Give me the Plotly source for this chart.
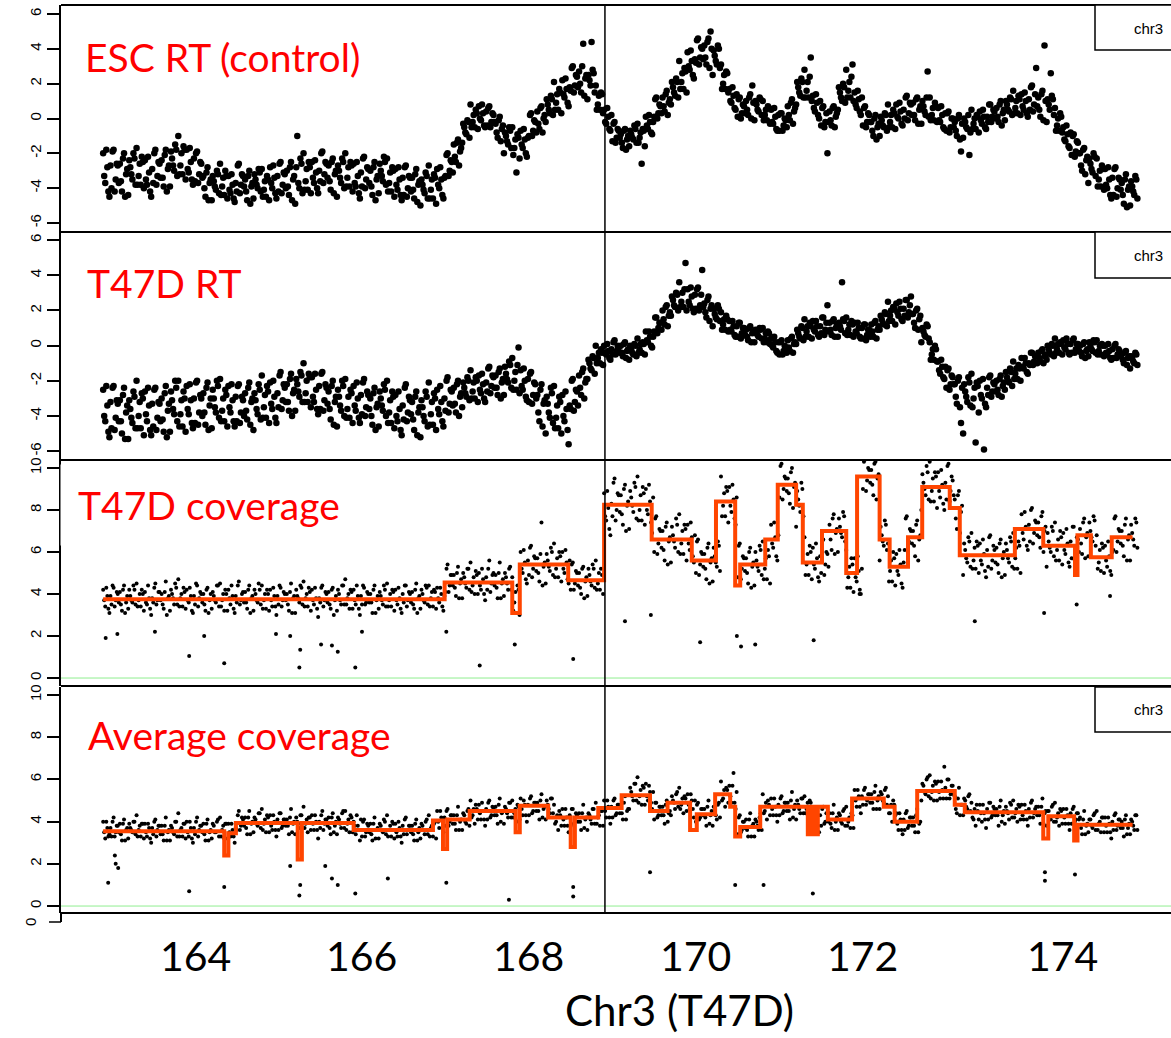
import plotly.graph_objects as go

# ---------------- data ----------------
# readings every 0.025 Mb starting at 162.9 Mb (4 readings per 0.1 Mb row);
# the *_B sets are a second pass of readings taken half a step later.
START_MB = 162.9
STEP_MB = 0.025

ESC_RT = [
[-2.0,-3.7,-2.8,-4.5],[-4.0,-1.8,-3.5,-2.7],[-2.6,-4.2,-2.0,-3.2],[-4.4,-2.8,-3.5,-2.3],[-1.7,-3.3,-3.8,-2.5],
[-2.4,-3.8,-3.1,-4.5],[-3.7,-1.8,-3.3,-2.6],[-2.4,-3.9,-1.8,-2.9],[-3.9,-2.3,-3.0,-1.8],[-1.0,-2.7,-3.2,-1.8],
[-1.8,-3.1,-2.5,-3.8],[-3.6,-1.9,-3.2,-2.6],[-3.3,-4.5,-2.8,-3.7],[-4.7,-3.6,-4.1,-3.2],[-2.6,-3.9,-4.4,-3.3],
[-3.3,-4.3,-3.8,-4.8],[-4.2,-2.6,-3.8,-3.3],[-3.5,-4.7,-3.0,-3.9],[-4.6,-3.5,-4.0,-3.1],[-2.9,-4.1,-4.5,-3.5],
[-2.8,-4.0,-3.4,-4.6],[-4.2,-2.5,-3.8,-3.2],[-3.0,-4.4,-2.5,-3.5],[-4.9,-1.0,-4.0,-2.6],[-2.0,-3.6,-4.1,-2.8],
[-2.5,-3.7,-3.1,-4.3],[-3.6,-1.9,-3.2,-2.6],[-2.7,-4.1,-2.3,-3.2],[-4.5,-3.0,-3.7,-2.5],[-2.0,-3.4,-3.9,-2.7],
[-2.6,-3.9,-3.3,-4.6],[-3.9,-2.2,-3.5,-2.9],[-3.0,-4.4,-2.5,-3.5],[-4.3,-3.0,-3.6,-2.5],[-2.3,-3.7,-4.2,-3.0],
[-2.9,-4.1,-3.5,-4.7],[-4.4,-2.7,-4.0,-3.4],[-3.4,-4.6,-2.9,-3.8],[-5.0,-3.8,-4.3,-3.3],[-2.7,-4.1,-4.6,-3.4],
[-2.9,-4.0,-3.5,-4.6],[-3.3,-2.0,-3.0,-2.5],[-1.5,-2.5,-1.2,-1.9],[-1.4,-0.5,-0.9,-0.2],[0.8,-0.2,-0.5,0.3],
[0.7,-0.1,0.3,-0.5],[-0.4,0.7,-0.2,0.2],[-0.3,-1.1,0.1,-0.6],[-2.0,-1.0,-1.5,-0.7],[-0.5,-1.7,-3.1,-1.1],
[-0.7,-1.7,-1.2,-2.2],[-1.0,0.3,-0.7,-0.2],[0.4,-0.6,0.7,0.0],[-0.2,0.8,0.3,1.1],[2.1,0.9,0.5,1.5],
[2.2,1.2,1.7,0.7],[1.6,3.0,1.9,2.4],[2.7,1.5,4.3,2.3],[1.1,2.2,4.4,2.6],[1.9,0.8,0.5,1.4],
[0.5,-0.3,0.1,-0.7],[-1.3,-0.2,-1.1,-0.7],[-0.9,-1.7,-0.6,-1.2],[-1.6,-0.9,-1.2,-0.6],[-0.3,-1.1,-2.6,-0.7],
[0.1,-0.6,-0.2,-0.9],[0.1,1.2,0.3,0.7],[1.2,0.4,1.6,0.9],[0.8,1.8,1.3,2.1],[3.3,2.1,1.7,2.7],
[3.8,2.8,3.3,2.3],[3.2,4.6,3.5,4.0],[4.2,3.1,4.6,5.0],[2.5,3.6,3.1,4.0],[3.1,2.0,1.7,2.6],
[1.7,0.9,1.3,0.5],[0.1,1.2,0.3,0.7],[1.0,0.2,1.4,1.9],[-0.1,0.8,0.4,1.1],[1.0,0.2,-0.1,0.6],
[0.5,-0.3,0.1,-0.7],[-0.7,0.3,-0.4,-0.1],[0.7,-0.1,1.1,0.4],[0.8,1.8,1.3,2.1],[2.8,1.6,1.2,3.5],
[1.3,0.4,0.9,0.0],[-0.4,0.7,-0.2,-2.0],[0.4,-0.4,0.7,0.1],[0.5,1.5,1.0,1.8],[2.8,1.6,1.2,3.1],
[1.5,0.6,1.1,0.2],[-0.4,0.7,-0.2,0.2],[-0.2,-1.0,0.2,-0.5],[-1.0,-0.1,-0.5,0.2],[0.8,-0.2,-0.5,0.3],
[0.8,0.0,0.4,-0.4],[0.0,1.3,0.3,0.8],[0.9,-0.1,1.2,0.5],[-0.3,0.7,0.2,2.7],[1.2,0.2,-0.1,0.7],
[0.6,-0.2,0.2,-0.6],[-0.7,0.4,-0.5,0.0],[-0.2,-1.0,0.2,-1.9],[-1.1,-0.2,-0.6,-2.1],[0.5,-0.3,-0.6,0.1],
[0.4,-0.3,0.1,-0.6],[-0.2,0.8,0.1,0.4],[0.6,-0.2,1.0,0.3],[-0.1,0.8,0.4,1.1],[1.6,0.6,0.3,1.1],
[1.4,0.5,1.0,0.1],[0.5,1.9,0.8,2.9],[1.2,0.1,1.6,4.2],[-0.2,0.8,2.6,1.1],[0.6,-0.4,-0.7,0.1],
[-0.5,-1.3,-0.9,-1.7],[-2.1,-0.9,-1.9,-1.4],[-2.0,-3.0,-1.7,-2.4],[-3.7,-2.6,-3.1,-2.2],[-2.3,-3.5,-3.9,-2.9],
[-2.9,-4.0,-3.5,-4.6],[-4.4,-2.8,-4.0,-3.5],[-3.7,-4.9,-3.2,-4.1],[-5.0,-3.9,-4.4,-3.5],
]
ESC_RT_B = [
[-3.3,-1.8,-4.2,-2.7],[-1.9,-4.2,-2.6,-3.7],[-3.6,-2.3,-4.5,-2.9],[-2.4,-3.2,-2.0,-3.8],[-3.8,-2.6,-2.2,-4.0],
[-3.5,-2.2,-4.2,-2.9],[-2.0,-3.8,-2.5,-3.4],[-3.4,-2.1,-4.2,-2.7],[-1.9,-2.7,-1.5,-3.3],[-3.2,-2.0,-1.6,-3.5],
[-2.9,-1.7,-3.5,-2.3],[-2.0,-3.7,-2.5,-3.4],[-4.0,-3.1,-4.7,-3.5],[-3.3,-3.9,-3.0,-4.3],[-4.4,-3.4,-3.0,-4.6],
[-4.1,-3.2,-4.6,-3.7],[-2.7,-4.3,-3.2,-3.9],[-4.2,-3.3,-4.9,-3.7],[-3.2,-3.8,-2.9,-4.2],[-4.5,-3.6,-3.3,-4.7],
[-3.7,-2.7,-4.3,-3.3],[-2.6,-4.3,-3.1,-4.0],[-3.9,-2.8,-4.7,-3.3],[-2.8,-3.7,-2.3,-4.3],[-4.1,-2.9,-2.5,-4.3],
[-3.4,-2.4,-4.0,-3.0],[-2.0,-3.7,-2.5,-3.4],[-3.6,-2.5,-4.3,-3.0],[-2.7,-3.4,-2.3,-4.0],[-3.9,-2.8,-2.5,-4.2],
[-3.7,-2.5,-4.3,-3.1],[-2.3,-4.0,-2.8,-3.7],[-3.9,-2.8,-4.7,-3.3],[-2.6,-3.3,-2.2,-3.8],[-4.2,-3.1,-2.8,-4.5],
[-3.8,-2.8,-4.4,-3.4],[-2.8,-4.5,-3.3,-4.2],[-4.1,-3.2,-4.8,-3.6],[-3.5,-4.1,-3.1,-4.6],[-4.6,-3.5,-3.2,-4.9],
[-3.8,-2.8,-4.4,-3.4],[-2.1,-3.3,-2.4,-3.1],[-2.2,-1.4,-2.7,-1.7],[-0.3,-0.8,-0.1,-1.1],[-0.5,0.2,0.5,-0.6],
[0.0,0.8,-0.4,0.4],[0.6,-0.5,0.3,-0.2],[-0.8,-0.1,-1.3,-0.4],[-0.8,-1.3,-0.5,-1.7],[-2.1,-1.2,-0.9,-2.3],
[-1.5,-0.6,-2.0,-1.1],[0.2,-1.0,-0.1,-0.8],[-0.3,0.6,-0.8,0.2],[1.1,0.5,1.3,0.2],[0.5,1.4,1.7,0.3],
[1.4,2.3,0.9,1.8],[2.9,1.5,2.5,1.8],[2.0,3.0,1.3,2.5],[2.5,1.9,2.8,1.5],[0.5,1.3,1.5,0.3],
[-0.2,0.6,-0.6,0.2],[-0.3,-1.4,-0.6,-1.1],[-1.4,-0.7,-1.8,-1.0],[-0.7,-1.1,-0.4,-1.4],[-1.4,-0.8,-0.6,-1.6],
[-0.4,0.2,-0.8,-0.2],[1.1,0.0,0.8,0.3],[0.7,1.4,0.2,1.1],[2.1,1.5,2.3,1.2],[1.7,2.6,2.9,1.5],
[3.0,3.9,2.5,3.4],[4.5,3.1,4.1,3.4],[3.5,4.4,2.9,4.0],[3.9,3.3,4.2,2.9],[1.7,2.5,2.7,1.5],
[1.0,1.8,0.6,1.4],[1.1,0.0,0.8,0.3],[0.5,1.2,0.0,0.9],[1.0,0.5,1.2,0.2],[-0.1,0.5,0.7,-0.3],
[-0.2,0.6,-0.6,0.2],[0.3,-0.7,0.0,-0.5],[0.2,0.9,-0.3,0.6],[2.1,1.5,2.3,1.2],[1.2,2.1,2.4,1.0],
[0.6,1.4,0.2,1.0],[0.6,-0.5,0.3,-0.2],[-0.1,0.6,-0.5,0.3],[1.8,1.2,2.0,0.9],[1.2,2.1,2.4,1.0],
[0.8,1.6,0.4,1.2],[0.6,-0.5,0.3,-0.2],[-0.7,0.0,-1.2,-0.3],[0.1,-0.4,0.3,-0.7],[-0.5,0.2,0.5,-0.6],
[0.1,0.9,-0.3,0.5],[1.2,-0.1,0.9,0.2],[0.2,1.1,-0.3,0.7],[1.0,0.4,1.2,0.1],[-0.1,0.6,0.9,-0.2],
[-0.1,0.7,-0.5,0.3],[0.3,-0.8,0.0,-0.5],[-0.7,0.0,-1.2,-0.3],[0.0,-0.5,0.2,-0.8],[-0.6,0.0,0.2,-0.8],
[-0.1,0.5,-0.5,0.1],[0.8,-0.2,0.5,0.0],[0.1,0.8,-0.4,0.5],[1.0,0.5,1.2,0.2],[0.3,1.0,1.3,0.2],
[0.7,1.5,0.3,1.1],[1.8,0.4,1.4,0.7],[0.5,1.4,-0.1,1.0],[1.1,0.5,1.3,0.2],[-0.7,0.0,0.3,-0.8],
[-1.2,-0.4,-1.6,-0.8],[-1.0,-2.2,-1.3,-2.0],[-2.7,-1.8,-3.2,-2.2],[-2.3,-2.9,-2.0,-3.3],[-3.9,-3.0,-2.7,-4.1],
[-3.8,-2.8,-4.4,-3.4],[-2.9,-4.5,-3.4,-4.1],[-4.4,-3.5,-5.1,-3.9],[-3.6,-4.2,-3.3,-4.6],
]

T47D_RT = [
[-2.5,-4.3,-3.4,-5.2],[-4.7,-2.3,-4.1,-3.3],[-3.1,-5.0,-2.4,-3.8],[-5.3,-3.6,-4.4,-2.9],[-2.0,-4.0,-4.7,-3.0],
[-2.6,-4.3,-3.4,-5.1],[-4.6,-2.4,-4.1,-3.3],[-3.0,-4.9,-2.3,-3.7],[-4.9,-3.1,-3.9,-2.4],[-2.0,-3.9,-4.6,-3.0],
[-2.3,-3.9,-3.1,-4.7],[-4.4,-2.0,-3.8,-3.0],[-2.7,-4.5,-2.1,-3.4],[-4.7,-3.0,-3.8,-2.3],[-1.9,-3.7,-4.3,-2.8],
[-2.3,-3.8,-3.1,-4.6],[-4.3,-2.2,-3.8,-3.1],[-2.7,-4.2,-2.1,-3.2],[-4.8,-3.1,-3.9,-2.5],[-1.7,-3.5,-4.1,-2.6],
[-2.1,-3.6,-2.9,-4.4],[-3.5,-1.5,-3.1,-2.4],[-2.2,-3.7,-1.6,-2.7],[-3.7,-2.2,-2.9,-1.7],[-1.0,-2.7,-3.2,-1.8],
[-1.8,-3.2,-2.5,-3.9],[-3.6,-1.5,-3.1,-2.4],[-2.6,-4.2,-2.0,-3.2],[-4.6,-2.9,-3.7,-2.3],[-1.9,-3.6,-4.1,-2.7],
[-2.3,-3.7,-3.0,-4.4],[-3.9,-1.9,-3.5,-2.8],[-3.0,-4.5,-2.4,-3.5],[-4.6,-3.0,-3.7,-2.5],[-2.0,-3.8,-4.4,-2.9],
[-2.8,-4.3,-3.6,-5.1],[-4.2,-2.2,-3.8,-3.1],[-3.2,-4.8,-2.6,-3.8],[-5.2,-3.5,-4.3,-2.9],[-2.1,-3.9,-4.5,-3.0],
[-2.5,-3.9,-3.2,-4.6],[-3.7,-1.8,-3.3,-2.6],[-2.4,-3.8,-2.0,-2.9],[-3.5,-2.4,-2.9,-2.0],[-1.4,-2.6,-3.0,-2.0],
[-1.7,-2.7,-2.2,-3.2],[-2.6,-1.2,-2.3,-1.8],[-1.7,-2.8,-1.3,-2.1],[-2.8,-1.6,-2.1,-1.1],[-0.7,-2.0,-2.5,-0.1],
[-1.4,-2.5,-2.0,-3.1],[-3.2,-1.5,-2.8,-2.2],[-2.8,-4.3,-2.2,-3.3],[-5.0,-3.3,-4.1,-2.7],[-2.3,-4.1,-4.7,-3.2],
[-2.8,-4.3,-3.6,-5.6],[-3.6,-1.9,-3.2,-2.6],[-1.7,-2.8,-1.3,-2.1],[-1.9,-1.0,-1.4,-0.7],[0.0,-0.7,-1.0,-0.4],
[0.0,-0.5,-0.3,-0.8],[-0.5,0.3,-0.3,-0.1],[0.0,-0.6,0.2,-0.3],[-0.8,-0.2,-0.5,0.0],[0.4,-0.2,-0.4,0.1],
[0.8,0.2,0.5,-0.1],[0.8,1.6,1.0,1.3],[2.0,1.2,2.3,1.7],[1.7,2.6,2.2,2.9],[3.6,2.5,2.2,4.7],
[3.2,2.3,2.8,1.9],[2.1,3.3,2.3,4.3],[2.4,1.6,2.8,2.1],[1.1,1.8,1.5,2.1],[1.9,1.2,0.9,1.5],
[1.4,0.8,1.1,0.5],[0.5,1.3,0.7,1.0],[0.9,0.3,1.1,0.7],[0.2,0.7,0.5,0.9],[1.0,0.4,0.2,0.7],
[0.4,-0.1,0.2,-0.4],[-0.5,0.3,-0.3,-0.1],[0.3,-0.3,0.5,0.1],[0.1,0.7,0.4,1.0],[1.5,0.8,0.5,1.1],
[1.4,0.8,1.1,0.5],[0.7,1.6,0.9,2.3],[1.3,0.6,1.5,1.0],[0.5,1.1,3.6,1.4],[1.6,0.9,0.6,1.2],
[1.3,0.7,1.0,0.4],[0.4,1.2,0.6,0.9],[1.2,0.5,1.4,0.9],[0.9,1.5,1.2,1.8],[2.5,1.7,1.4,2.1],
[2.4,1.7,2.1,1.4],[1.7,2.6,1.9,2.8],[1.8,1.0,2.1,1.5],[0.2,0.8,0.5,1.1],[0.2,-0.5,-0.8,-0.2],
[-0.9,-1.6,-1.2,-1.9],[-2.4,-1.3,-2.2,-1.8],[-2.2,-3.3,-1.8,-4.4],[-5.0,-2.6,-3.2,-2.1],[-1.6,-3.0,-5.5,-2.3],
[-2.0,-3.0,-5.9,-3.5],[-2.8,-1.7,-2.6,-2.2],[-2.0,-2.8,-1.7,-2.3],[-2.5,-1.8,-2.1,-1.5],[-0.9,-1.6,-1.9,-1.3],
[-0.7,-1.3,-1.0,-1.6],[-1.1,-0.4,-0.9,-0.6],[-0.4,-0.9,-0.2,-0.6],[-0.8,-0.2,-0.5,0.0],[0.4,-0.2,-0.4,0.1],
[0.3,-0.2,0.1,-0.5],[-0.4,0.4,-0.2,0.1],[0.0,-0.6,0.2,-0.3],[-0.6,0.0,-0.3,0.2],[0.3,-0.3,-0.5,0.0],
[0.0,-0.5,-0.3,-0.8],[-0.7,0.1,-0.5,-0.3],[-0.5,-1.0,-0.3,-0.7],[-1.3,-0.7,-1.0,-0.5],
]
T47D_RT_B = [
[-4.0,-2.3,-4.9,-3.2],[-2.4,-4.8,-3.1,-4.3],[-4.3,-2.8,-5.3,-3.4],[-3.1,-4.1,-2.6,-4.7],[-4.7,-3.2,-2.7,-5.1],
[-3.9,-2.4,-4.8,-3.3],[-2.5,-4.8,-3.2,-4.3],[-4.2,-2.7,-5.2,-3.3],[-2.6,-3.6,-2.0,-4.3],[-4.6,-3.1,-2.6,-4.9],
[-3.6,-2.2,-4.4,-3.0],[-2.1,-4.5,-2.8,-4.0],[-3.8,-2.4,-4.8,-3.0],[-2.5,-3.5,-2.0,-4.1],[-4.3,-3.0,-2.5,-4.6],
[-3.5,-2.2,-4.3,-2.9],[-2.3,-4.4,-2.9,-4.0],[-3.7,-2.4,-4.5,-3.0],[-2.7,-3.6,-2.2,-4.2],[-4.1,-2.8,-2.3,-4.4],
[-3.3,-2.0,-4.1,-2.7],[-1.7,-3.6,-2.2,-3.2],[-3.2,-1.9,-4.0,-2.5],[-1.9,-2.6,-1.5,-3.2],[-3.2,-2.0,-1.6,-3.5],
[-2.9,-1.6,-3.6,-2.3],[-1.6,-3.7,-2.2,-3.3],[-3.6,-2.3,-4.5,-2.9],[-2.5,-3.4,-2.0,-4.0],[-4.1,-2.9,-2.5,-4.4],
[-3.4,-2.1,-4.1,-2.8],[-2.1,-4.0,-2.6,-3.6],[-4.0,-2.7,-4.8,-3.3],[-2.6,-3.4,-2.2,-4.0],[-4.4,-3.1,-2.6,-4.7],
[-4.0,-2.6,-4.8,-3.4],[-2.4,-4.3,-2.9,-3.9],[-4.2,-2.9,-5.1,-3.5],[-3.1,-4.0,-2.6,-4.6],[-4.5,-3.2,-2.7,-4.8],
[-3.6,-2.3,-4.3,-3.0],[-2.0,-3.8,-2.5,-3.4],[-3.3,-2.2,-4.0,-2.7],[-2.1,-2.7,-1.8,-3.1],[-3.0,-2.1,-1.8,-3.2],
[-2.5,-1.6,-3.0,-2.1],[-1.3,-2.7,-1.7,-2.4],[-2.4,-1.5,-3.0,-1.9],[-1.2,-1.9,-0.9,-2.4],[-2.5,-1.5,-1.1,-2.7],
[-2.3,-1.3,-2.9,-1.9],[-1.6,-3.3,-2.1,-3.0],[-3.8,-2.5,-4.6,-3.1],[-2.9,-3.8,-2.4,-4.4],[-4.7,-3.4,-2.9,-5.0],
[-4.0,-2.6,-4.8,-3.4],[-2.0,-3.7,-2.5,-3.4],[-2.4,-1.5,-3.0,-1.9],[-0.8,-1.3,-0.6,-1.6],[-1.0,-0.4,-0.2,-1.1],
[-0.4,0.1,-0.7,-0.2],[0.2,-0.5,0.0,-0.4],[-0.4,0.1,-0.7,-0.2],[0.0,-0.4,0.1,-0.6],[-0.4,0.1,0.2,-0.5],
[0.3,0.8,0.0,0.5],[1.6,0.7,1.3,0.9],[1.5,2.2,1.1,1.9],[2.8,2.3,3.0,2.0],[2.2,3.0,3.2,2.0],
[2.5,3.3,2.1,2.9],[3.2,2.0,2.9,2.2],[1.9,2.6,1.4,2.3],[2.1,1.6,2.3,1.4],[0.9,1.5,1.7,0.8],
[0.9,1.4,0.6,1.1],[1.3,0.4,1.0,0.6],[0.5,1.0,0.2,0.8],[0.9,0.6,1.0,0.4],[0.2,0.7,0.8,0.1],
[0.0,0.5,-0.3,0.2],[0.2,-0.5,0.0,-0.4],[-0.1,0.4,-0.4,0.2],[0.9,0.5,1.1,0.3],[0.5,1.1,1.3,0.4],
[0.9,1.4,0.6,1.1],[1.6,0.6,1.3,0.8],[0.9,1.4,0.5,1.2],[1.3,0.9,1.5,0.7],[0.6,1.2,1.4,0.5],
[0.8,1.3,0.5,1.0],[1.2,0.3,0.9,0.5],[0.8,1.3,0.4,1.1],[1.7,1.3,1.9,1.1],[1.4,2.0,2.2,1.2],
[1.9,2.5,1.5,2.1],[2.6,1.6,2.3,1.8],[1.3,2.0,0.9,1.7],[1.0,0.6,1.2,0.4],[-0.8,-0.2,0.0,-0.9],
[-1.4,-0.8,-1.8,-1.2],[-1.4,-2.5,-1.7,-2.2],[-2.9,-2.0,-3.5,-2.4],[-2.2,-2.9,-1.8,-3.4],[-3.5,-2.4,-2.1,-3.8],
[-2.8,-1.9,-3.3,-2.4],[-1.8,-2.9,-2.1,-2.6],[-2.5,-1.9,-2.9,-2.1],[-1.5,-2.0,-1.3,-2.3],[-1.9,-1.3,-1.1,-2.0],
[-1.2,-0.7,-1.5,-1.0],[-0.4,-1.1,-0.6,-1.0],[-0.7,-0.3,-1.0,-0.5],[0.0,-0.4,0.1,-0.6],[-0.4,0.1,0.2,-0.5],
[-0.1,0.4,-0.4,0.1],[0.3,-0.4,0.1,-0.3],[-0.4,0.1,-0.7,-0.2],[0.2,-0.2,0.3,-0.4],[-0.5,0.0,0.1,-0.6],
[-0.4,0.1,-0.7,-0.2],[0.0,-0.7,-0.2,-0.6],[-0.8,-0.4,-1.1,-0.6],[-0.6,-0.9,-0.4,-1.1],
]

T47D_COV = [
[4.2,3.4,3.9,3.1],[3.5,4.3,3.7,4.0],[4.1,3.2,4.4,3.6],[3.3,3.9,3.6,4.2],[4.5,3.7,3.4,4.0],
[4.1,3.5,3.8,3.0],[3.6,4.5,3.7,4.1],[4.0,3.3,4.6,3.8],[3.2,4.0,3.5,4.3],[4.7,3.8,3.4,4.1],
[4.2,3.6,3.9,3.1],[3.5,4.4,3.8,4.0],[4.0,3.2,4.3,3.7],[3.3,3.9,3.6,4.4],[4.5,3.7,3.2,4.0],
[4.2,3.5,3.9,3.1],[3.6,4.6,3.7,4.1],[4.1,3.3,4.4,3.8],[3.2,4.0,3.6,4.2],[4.4,3.7,3.3,4.0],
[4.2,3.4,3.9,3.0],[3.5,4.3,3.7,4.0],[4.0,3.2,4.5,3.8],[3.1,3.9,3.6,4.3],[4.6,3.8,3.4,4.1],
[4.2,3.5,3.8,2.9],[3.6,4.4,3.7,4.0],[4.1,3.3,4.3,3.7],[3.2,4.0,3.5,4.4],[4.7,3.8,3.3,4.1],
[4.2,3.5,3.9,3.0],[3.5,4.3,3.6,4.0],[4.0,3.1,4.4,3.7],[3.3,3.9,3.5,4.2],[4.5,3.7,3.4,4.1],
[4.2,3.5,3.8,3.1],[3.6,4.4,3.7,4.0],[4.1,3.3,4.5,3.8],[3.3,4.0,3.6,4.3],[4.4,3.8,3.4,4.1],
[4.3,3.6,4.0,3.2],[4.1,5.4,4.4,4.9],[4.9,3.9,5.3,4.5],[3.8,4.8,4.3,5.2],[5.5,4.4,4.0,4.9],
[5.0,4.2,4.7,3.7],[4.2,5.6,4.5,5.0],[4.9,3.8,5.5,4.5],[3.9,4.8,4.2,5.3],[4.8,3.6,3.1,4.2],
[6.0,5.0,5.5,4.5],[4.9,6.3,5.2,5.7],[5.7,4.6,7.4,5.3],[4.5,5.6,5.1,6.0],[6.4,5.2,4.8,5.8],
[6.0,5.0,5.5,4.5],[4.2,5.5,4.5,5.0],[5.0,4.0,5.3,4.6],[3.9,4.9,4.4,5.2],[5.6,4.5,4.2,4.9],
[8.8,7.5,8.1,6.8],[7.7,9.5,8.0,8.7],[8.7,7.3,9.2,8.2],[7.1,8.6,7.9,9.1],[9.6,8.0,7.5,8.8],
[9.0,7.8,8.4,6.9],[6.0,7.7,6.4,7.0],[7.0,5.6,7.4,6.5],[5.5,6.8,6.2,7.3],[7.8,6.4,5.9,7.1],
[7.3,6.1,6.7,5.5],[5.0,6.6,5.4,5.9],[5.9,4.7,6.4,5.5],[4.6,5.8,5.3,6.3],[9.6,8.2,7.7,8.9],
[9.1,7.9,8.5,7.3],[4.8,6.4,5.2,5.7],[5.7,4.5,6.2,5.3],[4.4,5.6,5.1,6.1],[6.5,5.2,4.7,5.8],
[7.3,6.2,6.7,5.6],[8.6,10.2,9.0,9.5],[9.5,8.3,10.0,9.1],[7.2,8.5,7.9,9.0],[6.7,5.4,4.9,6.0],
[6.2,5.2,5.7,4.6],[5.0,6.6,5.4,5.9],[7.3,6.1,7.8,6.9],[6.0,7.2,6.7,7.7],[6.1,4.8,4.3,5.4],
[5.7,4.6,5.1,4.0],[9.0,10.4,9.4,9.9],[9.9,8.7,10.3,9.5],[5.6,6.8,6.3,7.3],[6.4,5.1,4.6,5.7],
[5.9,4.9,5.4,4.3],[6.1,7.7,6.5,7.0],[7.0,5.8,7.5,6.6],[8.0,9.3,8.7,9.8],[10.3,8.9,8.4,9.6],
[9.8,8.6,9.2,8.0],[8.5,10.2,8.9,9.4],[8.5,7.1,8.9,7.9],[4.9,6.1,5.5,6.5],[6.9,5.6,5.2,6.3],
[6.4,5.4,5.9,4.8],[5.3,6.8,5.6,6.1],[6.2,5.0,6.6,5.7],[4.9,6.1,5.5,6.5],[6.9,5.7,5.2,6.3],
[7.8,6.6,7.2,6.1],[6.5,8.1,6.9,7.4],[7.4,6.2,7.9,7.0],[5.3,6.5,6.0,7.0],[7.4,6.1,5.6,6.7],
[6.9,5.9,6.4,5.3],[5.7,7.2,6.1,6.6],[7.1,5.9,7.6,6.7],[5.8,7.0,6.5,7.5],[6.8,5.5,5.1,6.2],
[6.3,5.3,5.8,4.9],[6.1,7.7,6.5,7.0],[7.0,5.8,7.6,6.6],[5.6,6.9,6.3,7.4],
]
T47D_COV_B = [
[3.7,4.3,3.3,3.9],[4.4,3.4,4.1,3.6],[3.5,4.2,3.1,3.9],[4.2,3.7,4.4,3.5],[3.4,4.0,4.2,3.2],
[3.6,4.4,3.3,3.8],[4.3,3.5,4.1,3.7],[3.5,4.1,3.0,3.9],[4.2,3.8,4.5,3.5],[3.4,4.0,4.3,3.3],
[3.7,4.3,3.2,3.9],[4.5,3.4,4.1,3.6],[3.5,4.2,3.1,4.0],[4.1,3.7,4.4,3.4],[3.4,4.0,4.2,3.2],
[3.8,4.4,3.3,3.9],[4.4,3.5,4.0,3.6],[3.6,4.2,3.1,3.9],[4.2,3.7,4.5,3.5],[3.3,4.0,4.2,3.2],
[3.7,4.3,3.4,3.9],[4.4,3.4,4.1,3.7],[3.5,4.1,3.1,3.9],[4.2,3.8,4.4,3.5],[3.4,4.0,4.3,3.2],
[3.7,4.3,3.3,3.8],[4.3,3.4,4.1,3.6],[3.5,4.2,3.0,3.9],[4.2,3.7,4.4,3.5],[3.5,4.0,4.2,3.3],
[3.7,4.4,3.3,3.9],[4.4,3.5,4.1,3.6],[3.6,4.2,3.1,3.9],[4.1,3.7,4.4,3.4],[3.4,4.0,4.2,3.2],
[3.7,4.3,3.3,4.0],[4.4,3.4,4.1,3.6],[3.5,4.2,3.1,3.9],[4.2,3.7,4.4,3.5],[3.4,4.1,4.2,3.3],
[3.8,4.3,3.4,3.9],[5.2,4.1,4.9,4.4],[4.3,5.0,3.8,4.7],[5.0,4.5,5.2,4.2],[4.1,4.8,5.1,4.0],
[4.4,5.2,4.0,4.8],[5.2,4.1,4.9,4.4],[4.3,5.0,3.8,4.7],[5.0,4.5,5.2,4.2],[3.2,4.1,4.4,3.0],
[5.2,6.1,4.7,5.6],[6.2,4.8,5.8,5.1],[5.0,5.9,4.4,5.5],[5.9,5.3,6.2,4.9],[4.8,5.7,6.0,4.6],
[5.2,6.1,4.7,5.6],[5.4,4.2,5.1,4.4],[4.3,5.2,3.8,4.8],[5.2,4.6,5.4,4.3],[4.2,5.0,5.2,4.0],
[7.7,8.9,7.1,8.3],[9.3,7.5,8.8,7.9],[7.8,9.0,7.0,8.4],[8.9,8.2,9.3,7.6],[7.5,8.7,9.1,7.3],
[8.0,9.2,7.4,8.6],[7.6,5.9,7.1,6.2],[6.1,7.2,5.4,6.7],[7.2,6.5,7.6,6.0],[5.9,7.0,7.3,5.6],
[6.4,7.4,5.8,6.8],[6.5,4.9,6.0,5.3],[5.2,6.2,4.5,5.7],[6.2,5.5,6.5,5.1],[7.7,8.8,9.1,7.4],
[8.2,9.2,7.6,8.6],[6.3,4.7,5.8,5.1],[5.0,6.0,4.3,5.5],[6.0,5.3,6.3,4.9],[4.7,5.7,6.1,4.5],
[6.4,7.4,5.8,6.8],[10.1,8.5,9.6,8.9],[8.8,9.8,8.1,9.3],[8.9,8.2,9.3,7.7],[4.9,5.9,6.3,4.7],
[5.4,6.4,4.8,5.8],[6.5,4.9,6.0,5.3],[6.6,7.6,5.9,7.1],[7.6,6.9,7.9,6.5],[4.3,5.3,5.7,4.1],
[4.8,5.8,4.2,5.2],[10.3,8.9,10.0,9.3],[9.2,10.2,8.5,9.7],[7.2,6.5,7.5,6.1],[4.6,5.6,6.0,4.4],
[5.1,6.1,4.5,5.5],[7.6,6.0,7.1,6.4],[6.3,7.3,5.6,6.8],[9.7,9.0,10.1,8.5],[8.4,9.5,9.8,8.1],
[8.9,9.9,8.3,9.3],[10.1,8.4,9.6,8.7],[7.6,8.7,6.9,8.2],[6.4,5.7,6.7,5.3],[5.2,6.2,6.5,5.0],
[5.6,6.6,5.1,6.1],[6.7,5.2,6.3,5.5],[5.4,6.4,4.8,6.0],[6.4,5.7,6.7,5.3],[5.2,6.2,6.5,5.0],
[6.9,7.9,6.3,7.3],[8.0,6.4,7.5,6.8],[6.7,7.7,6.0,7.2],[6.9,6.2,7.2,5.8],[5.6,6.6,7.0,5.4],
[6.1,7.1,5.5,6.5],[7.2,5.6,6.7,6.0],[6.4,7.4,5.7,6.9],[7.4,6.7,7.7,6.3],[5.2,6.1,6.4,5.0],
[5.6,6.5,5.1,6.0],[7.6,6.0,7.1,6.4],[6.3,7.3,5.6,6.8],[7.3,6.6,7.6,6.2],
]
T47D_OUT_MB = [162.93,163.07,163.52,163.93,164.11,164.35,164.97,165.14,165.25,165.26,165.51,165.64,165.71,165.92,166.00,
               167.01,167.41,167.83,168.53,169.15,169.46,170.05,170.49,170.54,170.71,171.41,171.96,173.34,174.17,174.56,174.96]
T47D_OUT_VAL = [1.9,2.1,2.2,1.05,2.0,0.7,2.1,2.0,0.5,1.35,1.6,1.55,1.25,0.5,2.2,
                2.2,0.6,1.6,0.9,2.7,3.0,1.7,2.0,1.5,1.6,1.8,4.0,2.7,3.1,3.5,3.9]

AVG_COV = [
[4.0,3.2,3.7,3.4],[3.3,4.2,3.5,3.8],[3.9,3.1,4.1,3.6],[3.2,3.7,3.5,4.0],[4.3,3.6,3.3,3.9],
[3.9,3.3,3.7,3.0],[3.4,4.1,3.6,3.8],[3.8,3.1,4.2,3.5],[3.1,3.7,3.4,4.0],[4.4,3.6,3.3,3.9],
[4.0,3.3,3.7,3.0],[3.4,4.2,3.6,3.8],[3.9,3.1,4.1,3.5],[3.2,3.8,3.5,4.1],[4.2,3.6,3.2,3.9],
[3.9,3.3,3.6,3.0],[3.6,4.5,3.8,4.1],[4.2,3.4,4.5,3.9],[3.5,4.1,3.8,4.4],[4.6,3.9,3.5,4.2],
[4.3,3.6,4.0,3.3],[3.6,4.4,3.8,4.1],[4.1,3.4,4.6,3.9],[3.4,4.0,3.7,4.3],[4.7,3.9,3.5,4.2],
[4.3,3.6,4.0,3.2],[3.7,4.5,3.9,4.1],[4.2,3.4,4.4,3.8],[3.4,4.1,3.7,4.5],[4.5,3.9,3.5,4.2],
[4.0,3.4,3.8,3.1],[3.3,4.1,3.5,3.8],[3.9,3.1,4.2,3.6],[3.2,3.8,3.5,4.0],[4.3,3.6,3.3,3.9],
[3.9,3.3,3.7,3.0],[3.4,4.2,3.6,3.8],[3.8,3.1,4.1,3.5],[3.2,3.8,3.4,4.1],[4.3,3.7,3.3,4.0],
[4.5,3.7,4.2,3.5],[3.8,4.6,4.0,4.3],[4.3,3.6,4.7,4.0],[3.6,4.3,3.9,4.6],[5.0,4.3,3.9,4.6],
[4.8,4.1,4.5,3.8],[4.1,5.0,4.3,4.6],[4.7,3.9,5.1,4.4],[3.9,4.6,4.2,4.9],[5.0,4.4,4.0,4.7],
[5.1,4.3,4.8,4.0],[4.3,5.2,4.5,4.9],[4.9,4.1,5.3,4.6],[4.1,4.8,4.4,5.1],[4.8,4.0,3.6,4.3],
[4.6,3.8,4.2,3.5],[3.8,4.6,4.0,4.3],[4.4,3.6,4.8,4.1],[3.6,4.3,3.9,4.6],[4.9,4.2,3.8,4.5],
[5.0,4.2,4.7,3.9],[4.2,5.1,4.4,4.8],[4.8,4.1,5.2,4.5],[4.6,5.4,5.0,5.8],[6.1,5.2,4.8,5.6],
[5.8,5.0,5.4,4.6],[4.1,4.9,4.3,4.7],[4.7,3.9,5.0,4.4],[4.3,5.0,4.6,5.4],[5.6,4.8,4.4,5.1],
[5.3,4.6,5.0,4.2],[4.0,4.9,4.2,4.6],[4.6,3.8,5.0,4.3],[3.8,4.5,4.1,4.9],[5.9,5.1,4.7,5.5],
[5.7,4.9,6.3,4.6],[3.4,4.3,3.6,4.0],[4.1,3.3,4.4,3.8],[3.3,4.0,3.6,4.4],[5.3,4.5,4.1,4.8],
[5.1,4.3,4.7,4.0],[4.3,5.2,4.5,4.9],[4.9,4.1,5.4,4.6],[4.1,4.8,4.4,5.1],[5.2,4.6,4.2,4.9],
[4.6,3.8,4.3,3.5],[3.8,4.7,4.0,4.4],[4.4,3.7,4.8,4.0],[3.6,4.3,3.9,4.6],[4.7,4.0,3.7,4.3],
[5.5,4.7,5.2,4.4],[4.8,5.6,5.0,5.3],[5.3,4.6,5.7,5.0],[4.6,5.3,4.9,5.6],[5.2,4.4,4.0,4.8],
[4.4,3.6,4.1,3.4],[3.6,4.5,3.8,4.2],[4.2,3.5,4.6,3.9],[5.0,5.7,5.3,6.1],[6.2,5.4,5.0,5.8],
[5.9,5.1,5.5,6.6],[5.1,6.0,5.3,5.7],[5.2,4.4,5.6,4.8],[4.3,5.0,4.6,5.3],[4.9,4.1,3.8,4.5],
[4.8,4.0,4.4,3.7],[4.1,4.9,4.3,4.6],[4.6,3.8,5.0,4.3],[3.9,4.5,4.1,4.8],[5.0,4.4,4.0,4.7],
[4.8,4.1,4.5,3.8],[4.2,5.0,4.4,4.7],[4.7,3.9,5.1,4.4],[3.8,4.5,4.1,4.8],[4.9,4.2,3.8,4.5],
[4.6,3.9,4.3,3.6],[3.9,4.7,4.1,4.4],[4.2,3.4,4.5,3.8],[3.5,4.1,3.7,4.4],[4.5,3.9,3.5,4.2],
[4.2,3.5,3.9,3.2],[3.6,4.4,3.8,4.1],[4.0,3.3,4.3,3.7],[3.4,4.0,3.6,4.3],
]
AVG_COV_B = [
[3.5,4.0,3.3,3.7],[4.0,3.3,3.8,3.5],[3.4,3.9,3.1,3.7],[3.9,3.6,4.0,3.4],[3.3,3.8,3.9,3.2],
[3.5,3.9,3.2,3.7],[4.0,3.3,3.8,3.4],[3.4,3.8,3.1,3.6],[3.8,3.5,4.0,3.3],[3.3,3.7,3.9,3.2],
[3.5,4.0,3.2,3.7],[4.0,3.3,3.8,3.5],[3.4,3.9,3.1,3.6],[3.9,3.5,4.0,3.3],[3.3,3.8,3.9,3.2],
[3.5,3.9,3.3,3.7],[4.3,3.6,4.2,3.8],[3.7,4.2,3.4,4.0],[4.2,3.9,4.4,3.7],[3.6,4.1,4.3,3.5],
[3.8,4.3,3.6,4.1],[4.4,3.7,4.1,3.8],[3.8,4.2,3.5,4.0],[4.2,3.9,4.3,3.7],[3.7,4.1,4.2,3.6],
[3.9,4.3,3.6,4.0],[4.3,3.6,4.1,3.8],[3.7,4.2,3.5,4.0],[4.2,3.9,4.4,3.7],[3.6,4.1,4.3,3.5],
[3.8,4.3,3.6,4.1],[4.0,3.3,3.9,3.5],[3.4,3.9,3.2,3.7],[3.9,3.6,4.1,3.4],[3.3,3.8,4.0,3.2],
[3.5,4.0,3.3,3.8],[4.1,3.4,3.8,3.5],[3.4,3.9,3.1,3.7],[3.9,3.6,4.0,3.4],[3.3,3.8,3.9,3.2],
[4.0,4.5,3.7,4.2],[4.5,3.8,4.3,3.9],[3.9,4.3,3.6,4.1],[4.4,4.0,4.5,3.8],[4.2,4.6,4.8,4.1],
[4.4,4.9,4.1,4.6],[4.9,4.2,4.7,4.3],[4.3,4.8,4.0,4.5],[4.7,4.4,4.9,4.2],[4.2,4.6,4.8,4.1],
[4.6,5.0,4.3,4.8],[5.1,4.4,4.9,4.5],[4.5,5.0,4.2,4.7],[5.0,4.6,5.1,4.4],[3.9,4.3,4.5,3.8],
[4.1,4.6,3.8,4.3],[4.6,3.9,4.4,4.0],[4.0,4.4,3.7,4.2],[4.4,4.1,4.6,3.9],[3.9,4.3,4.5,3.8],
[4.5,5.0,4.2,4.7],[5.0,4.3,4.8,4.4],[4.4,4.9,4.1,4.6],[5.6,5.2,5.8,5.0],[4.9,5.5,5.7,4.8],
[5.2,5.7,4.9,5.4],[4.9,4.2,4.7,4.3],[4.3,4.8,4.0,4.5],[5.2,4.9,5.3,4.7],[4.6,5.1,5.2,4.5],
[4.8,5.3,4.6,5.0],[4.8,4.1,4.6,4.3],[4.2,4.7,3.9,4.5],[4.7,4.3,4.8,4.2],[5.0,5.5,5.6,4.9],
[5.2,5.7,4.9,5.4],[4.2,3.5,4.0,3.7],[3.6,4.1,3.3,3.9],[4.1,3.8,4.2,3.6],[4.4,4.9,5.0,4.3],
[4.6,5.1,4.3,4.8],[5.1,4.4,4.9,4.5],[4.5,5.0,4.2,4.8],[5.0,4.6,5.1,4.4],[4.4,4.9,5.0,4.3],
[4.1,4.6,3.8,4.3],[4.6,3.9,4.4,4.0],[3.9,4.4,3.6,4.2],[4.4,4.0,4.5,3.8],[3.8,4.2,4.4,3.7],
[5.0,5.5,4.7,5.2],[5.5,4.8,5.3,4.9],[4.9,5.4,4.6,5.2],[5.4,5.0,5.5,4.8],[4.4,4.8,5.0,4.3],
[3.9,4.4,3.6,4.1],[4.4,3.7,4.2,3.8],[3.8,4.3,3.5,4.0],[5.8,5.4,6.0,5.2],[5.1,5.7,5.9,5.0],
[5.4,5.9,5.1,5.6],[6.0,5.1,5.7,5.3],[4.6,5.1,4.3,4.8],[5.1,4.7,5.2,4.5],[4.2,4.6,4.8,4.1],
[4.4,4.8,4.1,4.6],[4.9,4.2,4.7,4.3],[4.3,4.7,4.0,4.5],[4.7,4.4,4.9,4.2],[4.2,4.6,4.8,4.1],
[4.3,4.8,4.1,4.6],[4.9,4.2,4.6,4.3],[4.3,4.7,3.9,4.5],[4.5,4.2,4.7,4.0],[4.0,4.4,4.6,3.9],
[4.2,4.6,3.9,4.4],[4.6,4.0,4.4,4.1],[3.7,4.1,3.4,3.9],[4.1,3.8,4.3,3.6],[3.6,4.0,4.2,3.5],
[3.8,4.2,3.5,4.0],[4.3,3.6,4.1,3.7],[3.7,4.1,3.4,3.9],[4.1,3.8,4.3,3.6],
]
AVG_OUT_MB = [162.96,163.04,163.05,163.08,163.93,164.35,165.14,165.25,165.26,165.56,165.64,165.71,165.92,166.31,
              167.01,167.76,168.53,168.53,169.45,170.47,170.81,171.40,174.18,174.18,174.54]
AVG_OUT_VAL = [1.1,2.4,2.0,1.8,0.7,0.9,1.9,0.5,1.0,1.9,1.3,1.0,0.6,1.3,
               1.1,0.3,0.45,0.9,1.6,1.0,1.0,0.6,1.2,1.6,1.5]

# segmentation (step lines)
SEG3_BOUNDS = [162.90,166.99,167.80,167.89,168.47,168.90,169.47,169.95,170.24,170.47,170.53,170.83,170.98,171.20,
               171.28,171.51,171.80,171.93,172.20,172.32,172.54,172.71,173.04,173.16,173.82,174.16,174.54,174.57,
               174.73,174.98,175.23]
SEG3_LEVELS = [3.75,4.55,3.1,5.4,4.65,8.25,6.6,5.6,8.4,4.4,5.4,6.6,9.2,8.25,5.5,7.0,5.0,9.6,6.6,5.3,6.7,9.1,8.1,
               5.85,7.1,6.3,4.9,6.8,5.75,6.7]
SEG4_BOUNDS = [162.90,164.35,164.40,164.49,165.23,165.28,165.90,166.85,166.97,167.02,167.29,167.84,167.89,168.23,
               168.50,168.55,168.83,169.11,169.45,169.66,169.93,170.01,170.23,170.41,170.47,170.53,170.77,171.34,
               171.38,171.42,171.46,171.58,171.87,172.25,172.38,172.65,173.10,173.22,174.16,174.22,174.53,174.57,175.23]
SEG4_LEVELS = [3.55,2.4,3.45,3.93,2.2,3.93,3.6,4.05,2.7,4.1,4.5,3.5,4.75,4.2,2.8,4.2,4.65,5.25,4.5,4.9,3.6,4.35,
               5.3,4.7,3.3,3.75,4.7,3.4,4.7,3.4,4.7,4.1,5.1,4.7,4.0,5.45,4.8,4.45,3.2,4.25,3.1,3.85]

MARK_MB = 168.91
X_TICKS = [164, 166, 168, 170, 172, 174]
RT_TICKS = [-6, -4, -2, 0, 2, 4, 6]
COV_TICKS = [0, 2, 4, 6, 8, 10]
PANEL_TITLES = ["ESC RT (control)", "T47D RT", "T47D coverage", "Average coverage"]
CHROM_LABEL = "chr3"
X_TITLE = "Chr3 (T47D)"

# ---------------- layout helpers ----------------
W, H = 1171, 1038
ML, MR, MT, MB = 61, 0, 5, 125
PW, PH = W - ML - MR, H - MT - MB
X_RANGE = [162.395, 175.69]


def px_x(px):
    return (px - ML) / PW


def px_y(py):
    return (H - MB - py) / PH


def flat(rows, offset=0.0):
    ys = [v for r in rows for v in r]
    xs = [START_MB + offset + STEP_MB * i for i in range(len(ys))]
    return xs, ys


RED_FONT = "Lato, 'Open Sans', sans-serif"
AX_FONT = "Liberation Sans, Arial, sans-serif"
ORANGE = "#FF4500"

fig = go.Figure()

for rows_a, rows_b, yax, size in [(ESC_RT, ESC_RT_B, "y", 6.5), (T47D_RT, T47D_RT_B, "y2", 6.5),
                                  (T47D_COV, T47D_COV_B, "y3", 4), (AVG_COV, AVG_COV_B, "y4", 4)]:
    xa, ya = flat(rows_a)
    xb, yb = flat(rows_b, STEP_MB / 2)
    fig.add_trace(go.Scatter(x=xa + xb, y=ya + yb, mode="markers", xaxis="x", yaxis=yax,
                             marker=dict(color="black", size=size, line=dict(width=0)),
                             showlegend=False, hoverinfo="skip"))

fig.add_trace(go.Scatter(x=T47D_OUT_MB, y=T47D_OUT_VAL, mode="markers", xaxis="x", yaxis="y3",
                         marker=dict(color="black", size=4), showlegend=False))
fig.add_trace(go.Scatter(x=AVG_OUT_MB, y=AVG_OUT_VAL, mode="markers", xaxis="x", yaxis="y4",
                         marker=dict(color="black", size=4), showlegend=False))

for bounds, levels, yax in [(SEG3_BOUNDS, SEG3_LEVELS, "y3"), (SEG4_BOUNDS, SEG4_LEVELS, "y4")]:
    fig.add_trace(go.Scatter(x=bounds, y=levels + [levels[-1]], mode="lines", line_shape="hv",
                             xaxis="x", yaxis=yax, line=dict(color=ORANGE, width=4),
                             showlegend=False, hoverinfo="skip"))

P_TOP = [5, 232, 460, 687]
P_BOT = [232, 460, 686, 913]
Y_RANGES = [[-6.52, 6.52], [-6.5, 6.46], [-0.38, 10.38], [-0.33, 10.38]]
Y_TICKS = [RT_TICKS, RT_TICKS, COV_TICKS, COV_TICKS]

yaxis_common = dict(showgrid=False, zeroline=False, showline=True, linecolor="black", linewidth=2,
                    ticks="outside", ticklen=12, tickwidth=1.5, tickcolor="black", tickangle=-90,
                    tickfont=dict(family=AX_FONT, size=15, color="black"), anchor="x")
layout = dict(
    width=W, height=H, margin=dict(l=ML, r=MR, t=MT, b=MB, pad=0),
    paper_bgcolor="white", plot_bgcolor="white", showlegend=False,
    xaxis=dict(range=X_RANGE, showgrid=False, zeroline=False, showline=False,
               showticklabels=False, ticks="", anchor="y4"),
)
names = ["yaxis", "yaxis2", "yaxis3", "yaxis4"]
for i, nm in enumerate(names):
    d = dict(yaxis_common)
    d.update(domain=[px_y(P_BOT[i]), px_y(P_TOP[i])], range=Y_RANGES[i], tickvals=Y_TICKS[i],
             ticktext=[str(t) for t in Y_TICKS[i]])
    layout[nm] = d
fig.update_layout(**layout)

shapes = []
for py in [5, 232, 460, 686, 913]:
    shapes.append(dict(type="line", xref="paper", yref="paper", x0=0, x1=1, y0=px_y(py), y1=px_y(py),
                       line=dict(color="black", width=2)))
for yax in ["y3", "y4"]:
    shapes.append(dict(type="line", xref="paper", yref=yax, x0=0, x1=1, y0=0, y1=0,
                       line=dict(color="#90EE90", width=1), layer="below"))
shapes.append(dict(type="line", xref="x", yref="paper", x0=MARK_MB, x1=MARK_MB, y0=px_y(913), y1=px_y(5),
                   line=dict(color="black", width=1.5)))
for top, bot in [(5, 50), (232, 278), (687, 732)]:
    shapes.append(dict(type="rect", xref="paper", yref="paper", x0=px_x(1095), x1=px_x(1200),
                       y0=px_y(bot), y1=px_y(top), line=dict(color="black", width=1.5), fillcolor="white"))
shapes.append(dict(type="line", xref="paper", yref="paper", x0=px_x(61), x1=px_x(61), y0=px_y(913), y1=px_y(922),
                   line=dict(color="black", width=2)))
shapes.append(dict(type="line", xref="paper", yref="paper", x0=px_x(49), x1=px_x(61), y0=px_y(922), y1=px_y(922),
                   line=dict(color="black", width=1.5)))

ann = []
title_pos = [(83, 57), (85, 283), (60, 505), (86, 735)]
for i, (t, (x, y)) in enumerate(zip(PANEL_TITLES, title_pos)):
    a = dict(text=t, xref="paper", yref="paper", x=px_x(x), y=px_y(y), xanchor="left", yanchor="middle",
             showarrow=False, font=dict(family=RED_FONT, size=39, color="#FF0000"))
    if i == 2:
        a.update(bgcolor="white", borderpad=17)
    ann.append(a)
for y in [29, 256, 709]:
    ann.append(dict(text=CHROM_LABEL, xref="paper", yref="paper", x=px_x(1148), y=px_y(y), xanchor="center",
                    yanchor="middle", showarrow=False, font=dict(family=AX_FONT, size=15, color="black")))
# x tick labels (the last label sits a little right of its tick in the original figure)
LABEL_NUDGE_PX = [0, 0, 0, 0, 0, 33]
px_per_mb = PW / (X_RANGE[1] - X_RANGE[0])
for t, nudge in zip(X_TICKS, LABEL_NUDGE_PX):
    ann.append(dict(text=str(t), xref="x", yref="paper", x=t + nudge / px_per_mb, y=px_y(955),
                    xanchor="center", yanchor="middle", showarrow=False,
                    font=dict(family=RED_FONT, size=41, color="black")))
ann.append(dict(text=X_TITLE, xref="paper", yref="paper", x=px_x(679), y=px_y(1010), xanchor="center",
                yanchor="middle", showarrow=False, font=dict(family=RED_FONT, size=42, color="black")))
ann.append(dict(text="0", xref="paper", yref="paper", x=px_x(30), y=px_y(922), xanchor="center", yanchor="middle",
                textangle=-90, showarrow=False, font=dict(family=AX_FONT, size=15, color="black")))

fig.update_layout(shapes=shapes, annotations=ann)
fig.write_html("out.html")
